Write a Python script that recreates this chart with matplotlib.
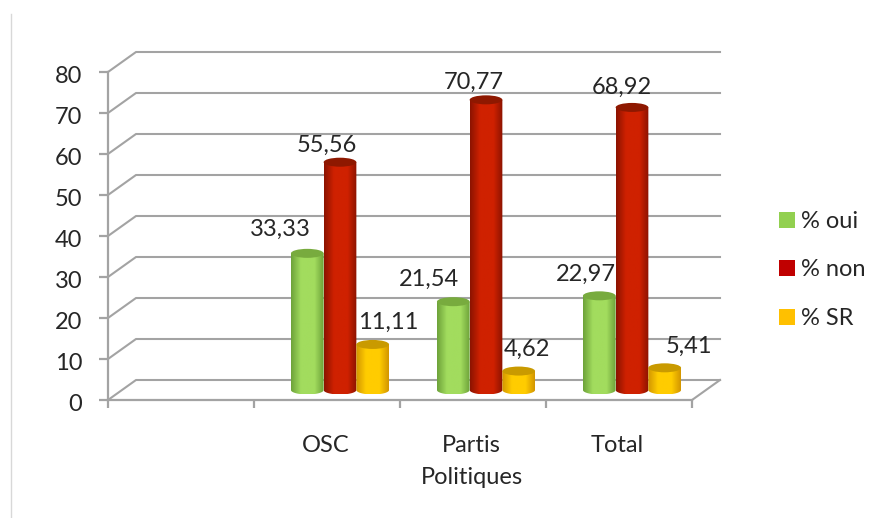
#!/usr/bin/env python3
import numpy as np
import matplotlib
matplotlib.use("Agg")
import matplotlib.pyplot as plt
from matplotlib.colors import LinearSegmentedColormap
from matplotlib.patches import Ellipse, Patch, PathPatch
from matplotlib.path import Path
from matplotlib.transforms import ScaledTranslation

categories = ["", "OSC", "Partis\nPolitiques", "Total"]
oui = [None, 33.33, 21.54, 22.97]
non = [None, 55.56, 70.77, 68.92]
sr = [None, 11.11, 4.62, 5.41]
series_names = ["% oui", "% non", "% SR"]

W, H = 870, 518
X0, X1, Y0, Y1 = 108, 692, 400, 72   # plot box in pixels
DEPTH_X, DEPTH_Y = 28, 20            # 3d wall offset in pixels

plt.rcParams["font.family"] = ["Lato", "DejaVu Sans"]
FS = 17
TXT = "#262626"
GRID = "#a3a3a3"

fig = plt.figure(figsize=(W / 100, H / 100), dpi=100, facecolor="white")
ax = fig.add_axes([X0 / W, 1 - Y0 / H, (X1 - X0) / W, (Y0 - Y1) / H])
ax.set_xlim(0, 4)
ax.set_ylim(0, 80)
ax.patch.set_visible(False)

# pixel to data units
ux = 4 / (X1 - X0)
uy = 80 / (Y0 - Y1)
dx = DEPTH_X * ux
dy = DEPTH_Y * uy

for s in ["top", "right"]:
    ax.spines[s].set_visible(False)
for s in ["left", "bottom"]:
    ax.spines[s].set_color(GRID)
    ax.spines[s].set_linewidth(1.6)

# back wall gridlines with the slanted part on the side wall
for v in range(0, 90, 10):
    ax.plot([0, dx, 4 + dx], [v, v + dy, v + dy], color=GRID, lw=1.5, clip_on=False, zorder=1)
ax.plot([4, 4 + dx], [0, dy], color=GRID, lw=1.5, clip_on=False, zorder=1)

ax.set_yticks(range(0, 90, 10))
ax.set_xticks(range(5))
ax.set_xticklabels([])
ax.set_xticks(np.arange(4) + 0.49, minor=True)
ax.set_xticklabels(categories, minor=True, fontsize=FS, color=TXT, linespacing=1.65)
ax.tick_params(axis="x", which="minor", length=0, pad=25)
ax.tick_params(axis="x", which="major", length=6, width=1.6, color=GRID)
ax.tick_params(axis="y", length=6.5, width=1.6, color=GRID, labelsize=FS, labelcolor=TXT, pad=12)
# y labels sit a little lower than the ticks
nudge = ScaledTranslation(0, -1.5 / 72, fig.dpi_scale_trans)
for lab in ax.get_yticklabels():
    lab.set_transform(lab.get_transform() + nudge)

colors = [
    ("#6ea33a", "#a2dc5e", "#78ab3e"),
    ("#8c1300", "#cf2100", "#8e1800"),
    ("#d39600", "#ffcc00", "#c99a00"),
]
legend_colors = ["#92d050", "#c00000", "#ffc000"]
# where each value label sits relative to the bar top, in pixels
label_off = [
    [(-27, 24), (-24, 22), (-13, 21)],
    [(-13, 17), (-12, 17), (-10, 20)],
    [(15, 22), (8, 22), (24, 21)],
]

bw = 0.224
ry = 4.5 * uy
base = 10 * uy
t = np.linspace(0, np.pi, 40)

for si, values in enumerate([oui, non, sr]):
    dark, bright, top = colors[si]
    cmap = LinearSegmentedColormap.from_list(
        "c", [(0, dark), (0.3, bright), (0.72, bright), (1, dark)])
    for ci, v in enumerate(values):
        if v is None:
            continue
        xc = ci + 0.5 + (DEPTH_X / 2 - 1) * ux + (si - 1) * bw
        yt = base + v
        # cylinder outline: straight sides, rounded bottom
        px = np.r_[xc - bw / 2, xc - bw / 2 + bw * (1 - np.cos(t)) / 2, xc + bw / 2, xc - bw / 2]
        py = np.r_[yt, base - ry * np.sin(t), yt, yt]
        body = PathPatch(Path(np.c_[px, py]), fc="none", ec="none", transform=ax.transData)
        ax.add_patch(body)
        im = ax.imshow(np.linspace(0, 1, 64)[None, :], cmap=cmap, aspect="auto",
                       extent=(xc - bw / 2, xc + bw / 2, base - ry, yt),
                       zorder=3 + ci * 0.1 + si * 0.01, clip_on=True)
        im.set_clip_path(body)
        ax.add_patch(Ellipse((xc, yt), bw, 2 * ry, angle=0, fc=top, ec="none",
                             zorder=3 + ci * 0.1 + si * 0.011, clip_on=False))
        ax.annotate(f"{v:.2f}".replace(".", ","), (xc, yt), xytext=label_off[si][ci - 1],
                    textcoords="offset pixels", ha="center", va="center",
                    fontsize=FS, color=TXT, zorder=6, annotation_clip=False)

ax.set_xlim(0, 4)
ax.set_ylim(0, 80)

handles = [Patch(fc=c, ec="none") for c in legend_colors]
fig.legend(handles, series_names, loc="center left", frameon=False, fontsize=FS,
           bbox_to_anchor=(758 / W, 1 - 270 / H), labelcolor=TXT, handlelength=0.68,
           handleheight=0.68, handletextpad=0.25, labelspacing=1.16)

# thin edge line on the left of the picture
fig.add_artist(plt.Line2D([11.5 / W, 11.5 / W], [0, 1 - 14 / H], color="#d8d8d8", lw=1))

fig.savefig("out.png", dpi=100)
